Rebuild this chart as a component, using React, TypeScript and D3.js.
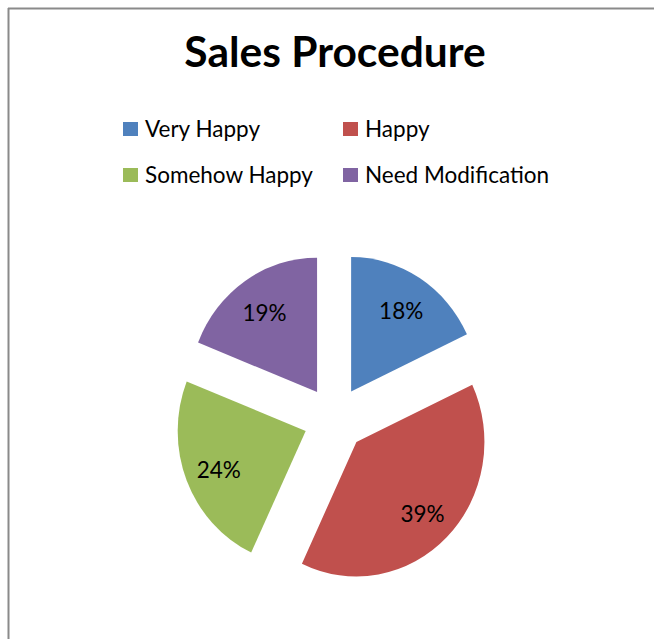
import React from "react";
import * as d3 from "d3";

const categories = ["Very Happy", "Happy", "Somehow Happy", "Need Modification"];
const values = [18, 39, 24, 19];
const colors = ["#4F81BD", "#C0504D", "#9BBB59", "#8064A2"];
const title = "Sales Procedure";

const WIDTH = 654;
const HEIGHT = 639;
const FONT = "Lato, 'Open Sans', sans-serif";

const App = () => {
    const cx = 334.5;
    const cy = 419;
    const radius = 128;
    const yStretch = 1.05;
    const explode = 31;
    const labelRadius = radius * 0.73;

    const pieGen = d3.pie<number>().sort(null).value((d) => d);
    const arcs = pieGen(values);
    const arcGen = d3.arc<d3.PieArcDatum<number>>().innerRadius(0).outerRadius(radius);
    const labelArc = d3.arc<d3.PieArcDatum<number>>().innerRadius(labelRadius).outerRadius(labelRadius);

    // legend: 2 columns x 2 rows
    const legendX = [123, 343];
    const legendY = [122, 168];

    return (
        <svg
            width={WIDTH}
            height={HEIGHT}
            style={{ position: "absolute", left: 0, top: 0, background: "#fff" }}
        >
            <rect x={0} y={0} width={WIDTH} height={HEIGHT} fill="#fff" />
            {/* chart frame, only top and left visible */}
            <line x1={8} y1={8.5} x2={WIDTH} y2={8.5} stroke="#8a8a8a" strokeWidth={2} />
            <line x1={8.5} y1={8} x2={8.5} y2={HEIGHT} stroke="#8a8a8a" strokeWidth={2} />

            <text
                x={335}
                y={67}
                textAnchor="middle"
                fontFamily={FONT}
                fontWeight="bold"
                fontSize={42.5}
                fill="#000"
            >
                {title}
            </text>

            {categories.map((c, i) => {
                const col = i % 2;
                const row = Math.floor(i / 2);
                return (
                    <g key={c} transform={"translate(" + legendX[col] + "," + legendY[row] + ")"}>
                        <rect width={15} height={14} fill={colors[i]} />
                        <text x={22} y={15} fontFamily={FONT} fontSize={22.5} fill="#000">
                            {c}
                        </text>
                    </g>
                );
            })}

            {arcs.map((a, i) => {
                const mid = (a.startAngle + a.endAngle) / 2;
                const dx = explode * Math.sin(mid);
                const dy = -explode * Math.cos(mid);
                const [lx, ly] = labelArc.centroid(a);
                return (
                    <g key={i}>
                        <g transform={"translate(" + cx + "," + cy + ") scale(1," + yStretch + ") translate(" + dx + "," + dy + ")"}>
                            <path d={arcGen(a) || ""} fill={colors[i]} />
                        </g>
                        <text
                            x={cx + dx + lx}
                            y={cy + (dy + ly) * yStretch + 2}
                            textAnchor="middle"
                            dominantBaseline="central"
                            fontFamily={FONT}
                            fontSize={22.5}
                            fill="#000"
                        >
                            {values[i] + "%"}
                        </text>
                    </g>
                );
            })}
        </svg>
    );
};

export default App;
